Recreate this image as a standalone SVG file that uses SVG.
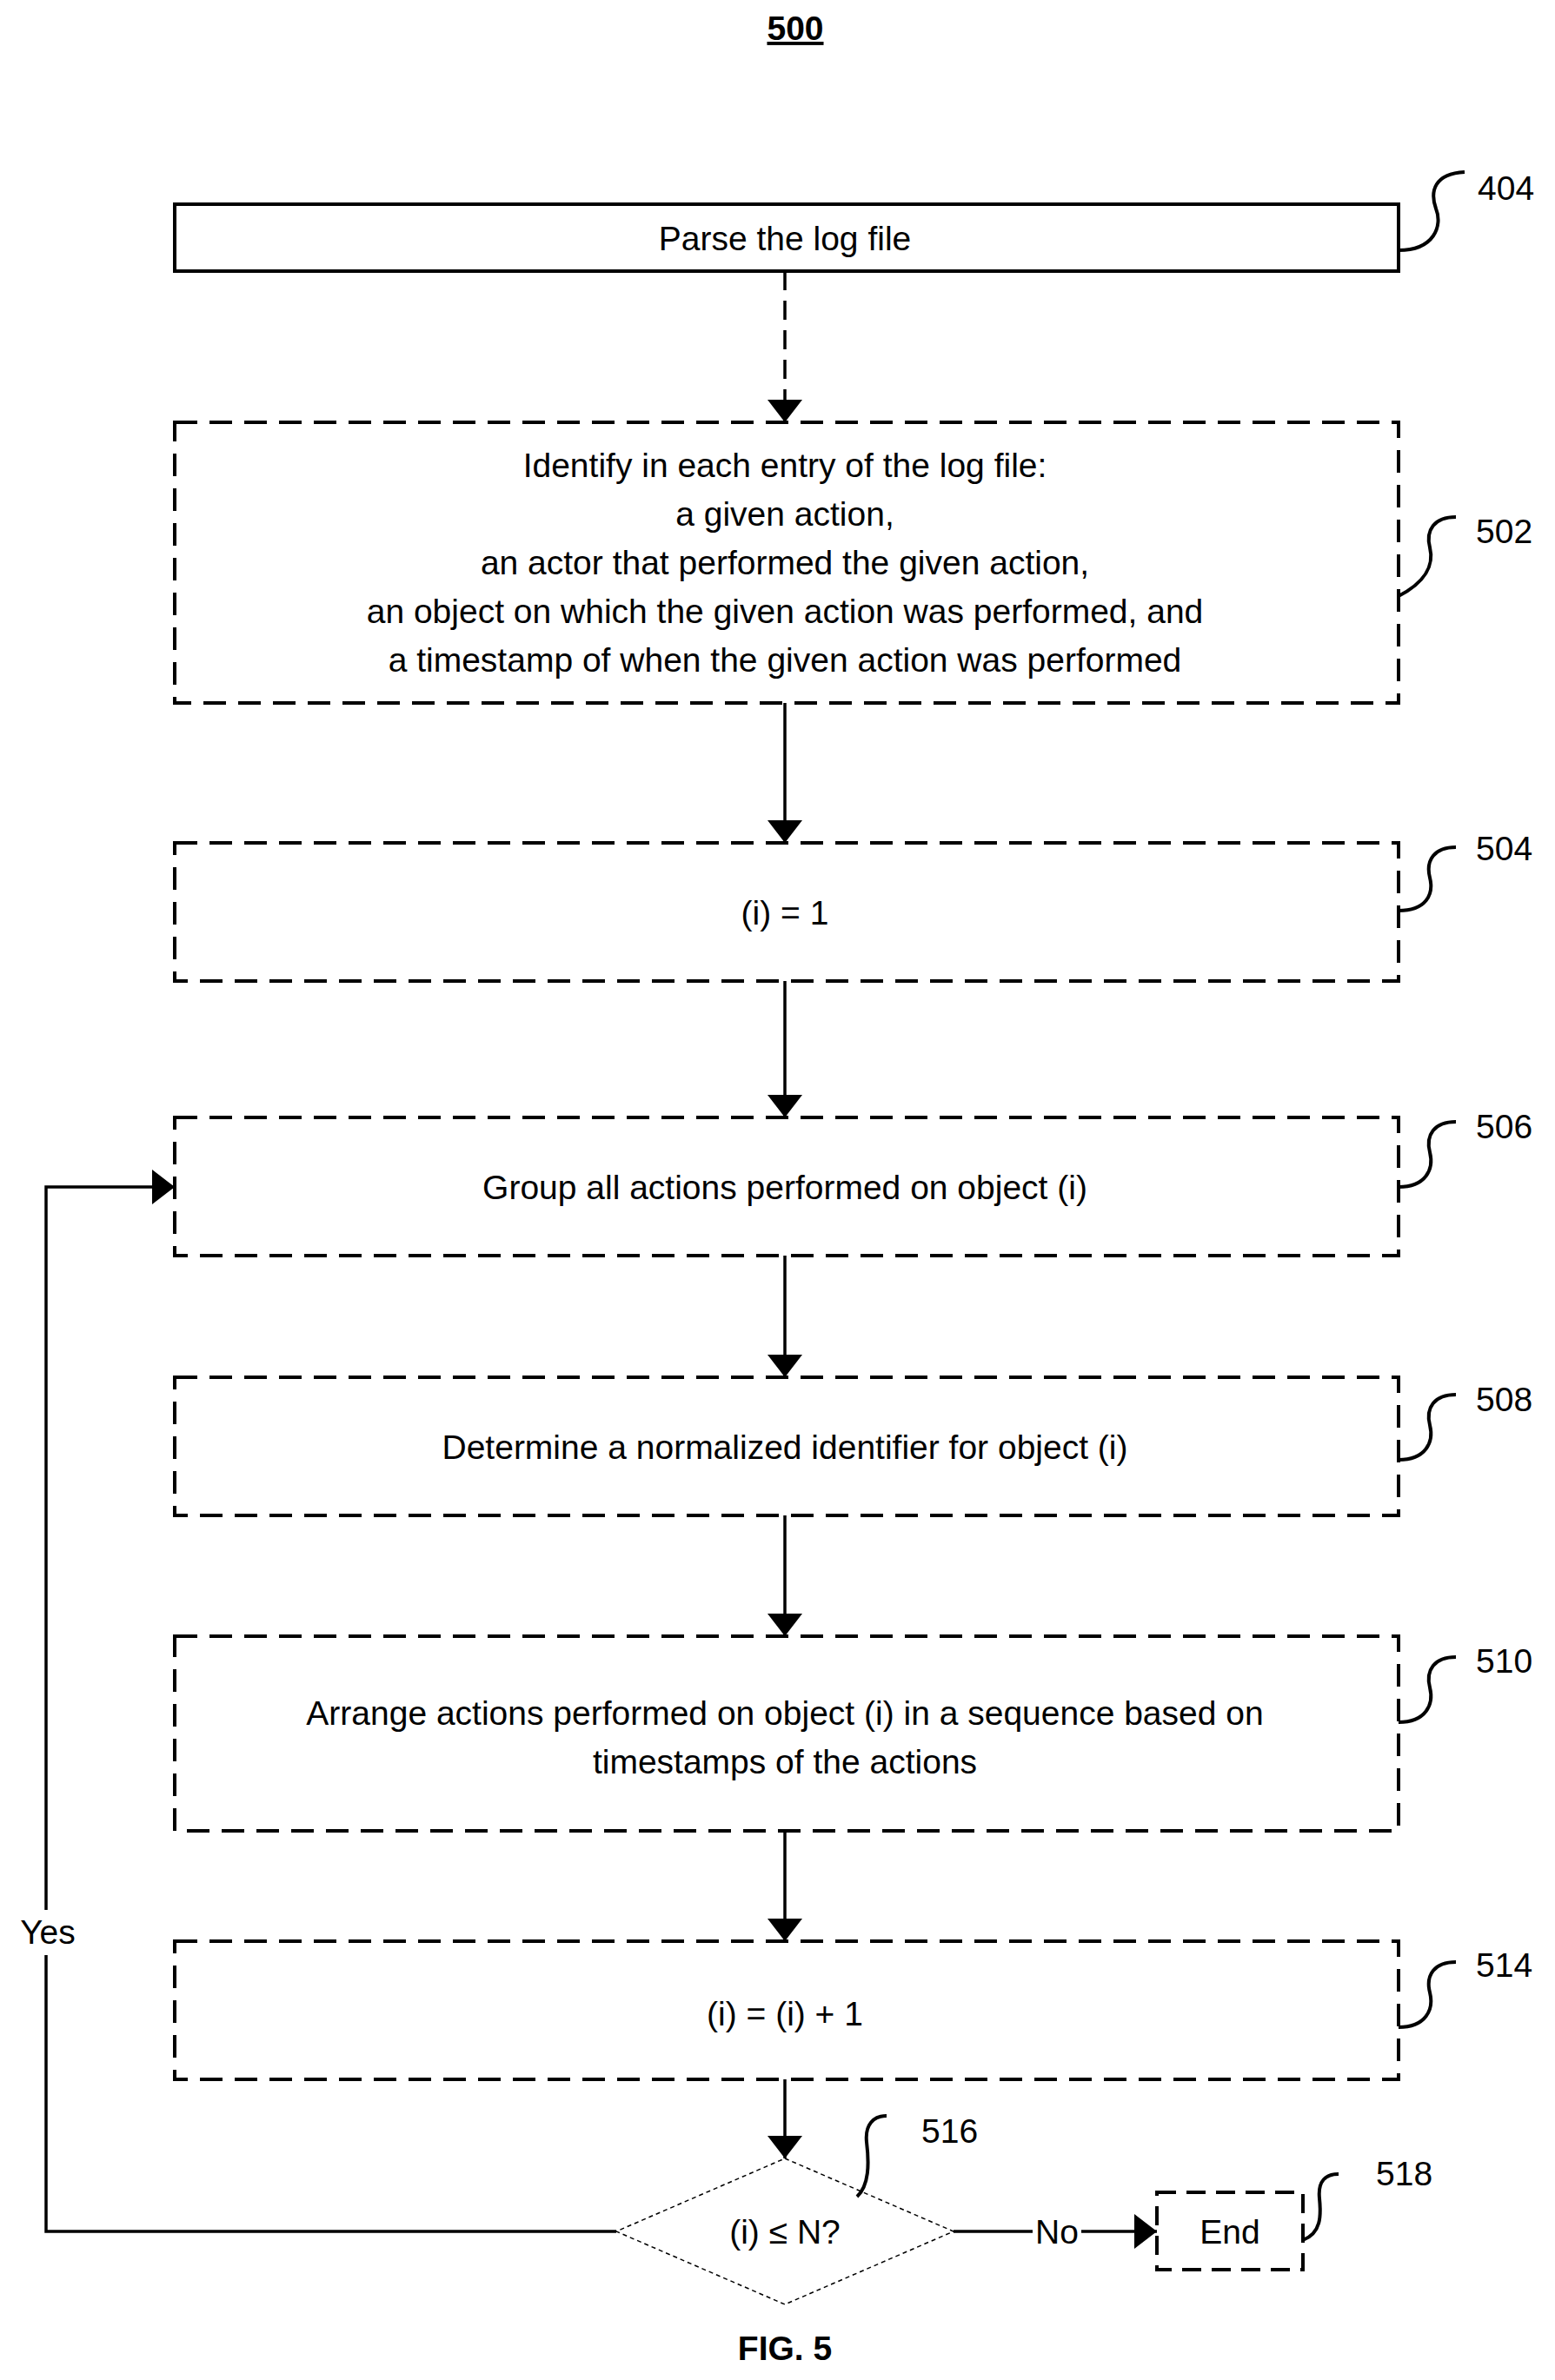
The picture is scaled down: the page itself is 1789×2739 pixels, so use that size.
<svg xmlns="http://www.w3.org/2000/svg" width="1789" height="2739" viewBox="0 0 1789 2739">
<style>
text{font-family:"Liberation Sans",Arial,sans-serif;font-size:39px;fill:#000;text-anchor:middle}
.box{fill:#fff;stroke:#000;stroke-width:4;stroke-dasharray:26 14}
.solid{fill:#fff;stroke:#000;stroke-width:4}
.con{fill:none;stroke:#000;stroke-width:3.5}
.sq{fill:none;stroke:#000;stroke-width:4}
.lbl{text-anchor:start;font-size:39px}
</style>
<defs>
<marker id="a" viewBox="0 0 10 10" refX="10" refY="5" markerWidth="26" markerHeight="40" markerUnits="userSpaceOnUse" orient="auto" preserveAspectRatio="none"><path d="M0,0 L10,5 L0,10 z"/></marker></defs>
<text x="915" y="46" style="font-weight:bold;text-decoration:underline">500</text>
<g id="n404"><rect class="solid" x="201" y="235" width="1408" height="77"/><text x="903" y="288">Parse the log file</text><path class="sq" d="M1609 288 C1650 288 1660 260 1652 240 C1645 220 1650 200 1685 198"/><text class="lbl" x="1700" y="230">404</text></g>
<g id="n502"><rect class="box" x="201" y="486" width="1408" height="323"/>
<text x="903" y="549">Identify in each entry of the log file:</text><text x="903" y="605">a given action,</text><text x="903" y="661">an actor that performed the given action,</text><text x="903" y="717">an object on which the given action was performed, and</text><text x="903" y="773">a timestamp of when the given action was performed</text>
<path class="sq" d="M1609 686 C1640 670 1650 650 1645 630 C1640 610 1650 595 1675 595"/><text class="lbl" x="1698" y="625">502</text></g>
<g id="n504"><rect class="box" x="201" y="970" width="1408" height="159"/><text x="903" y="1064">(i) = 1</text><path class="sq" d="M1609 1048 C1640 1048 1650 1030 1645 1010 C1640 990 1650 975 1675 975"/><text class="lbl" x="1698" y="990">504</text></g>
<g id="n506"><rect class="box" x="201" y="1286" width="1408" height="159"/><text x="903" y="1380">Group all actions performed on object (i)</text><path class="sq" d="M1609 1366 C1640 1366 1650 1346 1645 1326 C1640 1306 1650 1291 1675 1291"/><text class="lbl" x="1698" y="1310">506</text></g>
<g id="n508"><rect class="box" x="201" y="1585" width="1408" height="159"/><text x="903" y="1679">Determine a normalized identifier for object (i)</text><path class="sq" d="M1609 1680 C1640 1680 1650 1660 1645 1640 C1640 1620 1650 1605 1675 1605"/><text class="lbl" x="1698" y="1624">508</text></g>
<g id="n510"><rect class="box" x="201" y="1883" width="1408" height="224"/><text x="903" y="1985">Arrange actions performed on object (i) in a sequence based on</text><text x="903" y="2041">timestamps of the actions</text><path class="sq" d="M1609 1982 C1640 1982 1650 1962 1645 1942 C1640 1922 1650 1907 1675 1907"/><text class="lbl" x="1698" y="1925">510</text></g>
<g id="n514"><rect class="box" x="201" y="2234" width="1408" height="159"/><text x="903" y="2331">(i) = (i) + 1</text><path class="sq" d="M1609 2333 C1640 2333 1650 2313 1645 2293 C1640 2273 1650 2258 1675 2258"/><text class="lbl" x="1698" y="2275">514</text></g>
<g id="n516"><path d="M903 2484 L1097 2568 L903 2652 L709 2568 z" fill="#fff" stroke="#000" stroke-width="1.5" stroke-dasharray="5 4"/><text x="903" y="2582">(i) ≤ N?</text><path class="sq" d="M986 2528 C1000 2515 1000 2490 997 2465 C995 2445 1005 2435 1020 2435"/><text class="lbl" x="1060" y="2466">516</text></g>
<g id="n518"><rect class="box" x="1331" y="2523" width="168" height="89" style="stroke-dasharray:22 12"/><text x="1415" y="2582">End</text><path class="sq" d="M1499 2578 C1520 2570 1520 2550 1518 2530 C1516 2510 1525 2502 1540 2502"/><text class="lbl" x="1583" y="2515">518</text></g>
<g id="connectors">
<path class="con" d="M903 312 V486" stroke-dasharray="22 12" marker-end="url(#a)"/>
<path class="con" d="M903 809 V970" marker-end="url(#a)"/>
<path class="con" d="M903 1129 V1286" marker-end="url(#a)"/>
<path class="con" d="M903 1445 V1585" marker-end="url(#a)"/>
<path class="con" d="M903 1744 V1883" marker-end="url(#a)"/>
<path class="con" d="M903 2107 V2234" marker-end="url(#a)"/>
<path class="con" d="M903 2393 V2484" marker-end="url(#a)"/>
<path class="con" d="M1097 2568 H1188"/>
<path class="con" d="M1244 2568 H1331" marker-end="url(#a)"/>
<path class="con" d="M709 2568 H53 V2250"/>
<path class="con" d="M53 2198 V1366 H201" marker-end="url(#a)"/>
<text x="55" y="2237">Yes</text>
<text x="1216" y="2582">No</text>
</g>
<text x="903" y="2716" style="font-weight:bold">FIG. 5</text>
</svg>
